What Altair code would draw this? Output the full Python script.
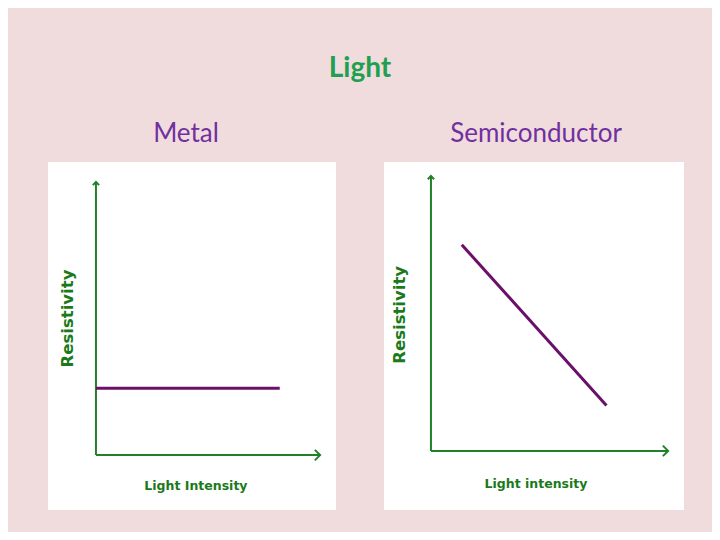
import altair as alt
import pandas as pd

# colours
bg = "#F0DCDC"
green_title = "#1EA050"
purple_title = "#7030A0"
axis_green = "#22802A"
line_purple = "#6A106A"
label_green = "#1A7A1A"

# data
main_title = "Light"
panel_titles = ["Metal", "Semiconductor"]
x_axis_titles = ["Light Intensity", "Light intensity"]
y_axis_title = "Resistivity"
axis_start = 0
axis_end = 10

metal_intensity = [0.0, 8.2]
metal_resistivity = [2.45, 2.45]
semi_intensity = [1.3, 7.4]
semi_resistivity = [7.5, 1.65]

RIGHT_ARROW = "M-1,-1L0,0L-1,1"
UP_ARROW = "M-1,1L0,0L1,1"


def panel(title, xlab, xs, ys, xdom, ydom, w, h, xlab_pos, ylab_pos, tdx):
    xsc = alt.Scale(domain=xdom, nice=False, zero=False)
    ysc = alt.Scale(domain=ydom, nice=False, zero=False)
    one = pd.DataFrame({"a": [0]})

    axes_df = pd.DataFrame({
        "x": [axis_start, axis_start], "y": [axis_start, axis_start],
        "x2": [axis_end, axis_start], "y2": [axis_start, axis_end],
    })
    rules = alt.Chart(axes_df).mark_rule(color=axis_green, strokeWidth=2).encode(
        x=alt.X("x:Q", scale=xsc, axis=None),
        y=alt.Y("y:Q", scale=ysc, axis=None),
        x2="x2:Q", y2="y2:Q",
    )
    arrow_x = alt.Chart(pd.DataFrame({"x": [axis_end], "y": [axis_start]})).mark_point(
        shape=RIGHT_ARROW, size=110, filled=False, color=axis_green, strokeWidth=2, opacity=1
    ).encode(x=alt.X("x:Q", scale=xsc, axis=None), y=alt.Y("y:Q", scale=ysc, axis=None))
    arrow_y = alt.Chart(pd.DataFrame({"x": [axis_start], "y": [axis_end]})).mark_point(
        shape=UP_ARROW, size=40, filled=False, color=axis_green, strokeWidth=2, opacity=1
    ).encode(x=alt.X("x:Q", scale=xsc, axis=None), y=alt.Y("y:Q", scale=ysc, axis=None))

    line = alt.Chart(pd.DataFrame({"x": xs, "y": ys})).mark_line(
        color=line_purple, strokeWidth=3
    ).encode(x=alt.X("x:Q", scale=xsc, axis=None), y=alt.Y("y:Q", scale=ysc, axis=None))

    xtext = alt.Chart(one).mark_text(
        text=xlab, font="DejaVu Sans", fontWeight="bold", fontSize=12.5,
        color=label_green, align="center", baseline="middle"
    ).encode(x=alt.datum(xlab_pos[0]), y=alt.datum(xlab_pos[1]))
    ytext = alt.Chart(one).mark_text(
        text=y_axis_title, font="DejaVu Sans", fontWeight="bold", fontSize=16.5,
        color=label_green, align="center", baseline="middle", angle=270
    ).encode(x=alt.datum(ylab_pos[0]), y=alt.datum(ylab_pos[1]))

    return alt.layer(rules, arrow_x, arrow_y, line, xtext, ytext).properties(
        width=w, height=h,
        title=alt.TitleParams(
            title, color=purple_title, fontSize=26, font="Lato",
            fontWeight="normal", offset=15, dx=tdx
        ),
    )


p1 = panel(panel_titles[0], x_axis_titles[0], metal_intensity, metal_resistivity,
           [-2.14, 10.71], [-2.01, 10.73], 288, 348, (4.46, -1.14), (-1.25, 5.0), -6)
p2 = panel(panel_titles[1], x_axis_titles[1], semi_intensity, semi_resistivity,
           [-1.98, 10.67], [-2.15, 10.51], 300, 348, (4.43, -1.2), (-1.31, 4.95), 2)

chart = alt.hconcat(p1, p2, spacing=48).properties(
    title=alt.TitleParams(main_title, color=green_title, fontSize=28, font="Lato",
                          fontWeight="bold", anchor="middle", offset=38, dx=-6),
    padding={"left": 40, "top": 47, "right": 28, "bottom": 22},
    background=bg,
).configure_view(fill="white", stroke=None)

chart.save("out.html", embed_options={"renderer": "svg", "actions": False})
